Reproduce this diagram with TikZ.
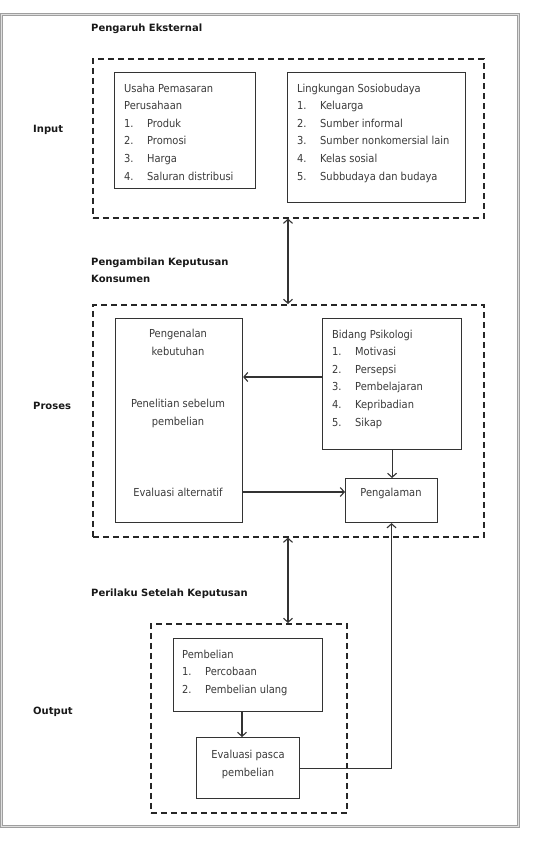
\documentclass[tikz,border=0pt]{standalone}
\usepackage{fontspec}
\setmainfont{DejaVu Sans Condensed}
\newfontfamily\lblfont{DejaVu Sans}
\usetikzlibrary{arrows.meta}
\definecolor{ln}{HTML}{333333}
\definecolor{tx}{HTML}{3A3A3A}
\newcommand{\itm}[2]{\makebox[23pt][l]{#1}#2}
\begin{document}
\begin{tikzpicture}[x=1pt,y=-1pt,
  box/.style={draw=ln,line width=1.1pt,inner sep=0pt,anchor=north west},
  dbox/.style={draw=black!85,line width=1.6pt,dash pattern=on 6pt off 4pt,inner sep=0pt,anchor=north west},
  txt/.style={inner sep=0pt,text=tx,font=\fontsize{11}{17.6}\selectfont},
  lbl/.style={inner sep=0pt,text=black!90,font=\lblfont\fontsize{10}{17}\selectfont\bfseries,align=left},
  conn/.style={draw=ln,line width=1.1pt},
  arr/.style={conn,-{Straight Barb[length=4pt,width=9pt]}},
  darr/.style={conn,{Straight Barb[length=4pt,width=9pt]}-{Straight Barb[length=4pt,width=9pt]}}]
\useasboundingbox (0,0) rectangle (556,844);
\fill[white] (0,0) rectangle (556,844);
% outer frame
\draw[draw=gray!75,double=gray!25,double distance=1pt,line width=0.9pt] (1.5,14.5) rectangle (518.5,826.5);
% labels
\node[lbl,anchor=west] (l1) at (91,29) {Pengaruh Eksternal};
\node[lbl,anchor=west] (l2) at (33,130) {Input};
\node[lbl,anchor=west] (l3) at (91,270.5) {Pengambilan Keputusan\\Konsumen};
\node[lbl,anchor=west] (l4) at (33,406) {Proses};
\node[lbl,anchor=west] (l5) at (91,594) {Perilaku Setelah Keputusan};
\node[lbl,anchor=west] (l6) at (33,712) {Output};
% dashed groups
\node[dbox,minimum width=391,minimum height=159] (ext) at (92,58) {};
\node[dbox,minimum width=391,minimum height=232] (proc) at (92,304) {};
\node[dbox,minimum width=196,minimum height=189] (outg) at (150,623) {};
% boxes
\node[box,minimum width=141,minimum height=116] (usaha) at (114,72) {};
\node[box,minimum width=178,minimum height=130] (ling) at (287,72) {};
\node[box,minimum width=127,minimum height=204] (left) at (115,318) {};
\node[box,minimum width=139,minimum height=131] (bid) at (322,318) {};
\node[box,minimum width=92,minimum height=44] (peng) at (345,478) {};
\node[box,minimum width=149,minimum height=73] (pemb) at (173,638) {};
\node[box,minimum width=103,minimum height=61] (evp) at (196,737) {};
% texts
\node[txt,anchor=north west,align=left] (tusaha) at (124,83.6) {Usaha Pemasaran\\Perusahaan\\\itm{1.}{Produk}\\\itm{2.}{Promosi}\\\itm{3.}{Harga}\\\itm{4.}{Saluran distribusi}};
\node[txt,anchor=north west,align=left] (tling) at (297,83.6) {Lingkungan Sosiobudaya\\\itm{1.}{Keluarga}\\\itm{2.}{Sumber informal}\\\itm{3.}{Sumber nonkomersial lain}\\\itm{4.}{Kelas sosial}\\\itm{5.}{Subbudaya dan budaya}};
\node[txt,anchor=north west,align=left] (tbid) at (332,329.6) {Bidang Psikologi\\\itm{1.}{Motivasi}\\\itm{2.}{Persepsi}\\\itm{3.}{Pembelajaran}\\\itm{4.}{Kepribadian}\\\itm{5.}{Sikap}};
\node[txt,anchor=north west,align=left] (tpemb) at (182,649.6) {Pembelian\\\itm{1.}{Percobaan}\\\itm{2.}{Pembelian ulang}};
\node[txt,align=center] (tpk) at (178,342.5) {Pengenalan\\kebutuhan};
\node[txt,align=center] (tpsp) at (178,413.5) {Penelitian sebelum\\pembelian};
\node[txt] (tea) at (178,492) {Evaluasi alternatif};
\node[txt] (tpeng) at (391,493) {Pengalaman};
\node[txt,align=center] (tevp) at (248,764.5) {Evaluasi pasca\\pembelian};
% connectors
\coordinate (cx) at (288,0);
\coordinate (cy) at (0,377);
\coordinate (cp) at (242,0);
\draw[darr] (ext.south -| cx) -- (proc.north -| cx);
\draw[darr] (proc.south -| cx) -- (outg.north -| cx);
\draw[arr] (bid.west |- cy) -- (left.east |- cy);
\draw[arr] (bid.south) -- (bid.south |- peng.north);
\draw[arr] (left.east |- tea) -- (peng.west |- tea);
\draw[arr] (pemb.south -| cp) -- (evp.north -| cp);
\draw[arr] (evp.east) -| (peng.south);
\end{tikzpicture}
\end{document}
